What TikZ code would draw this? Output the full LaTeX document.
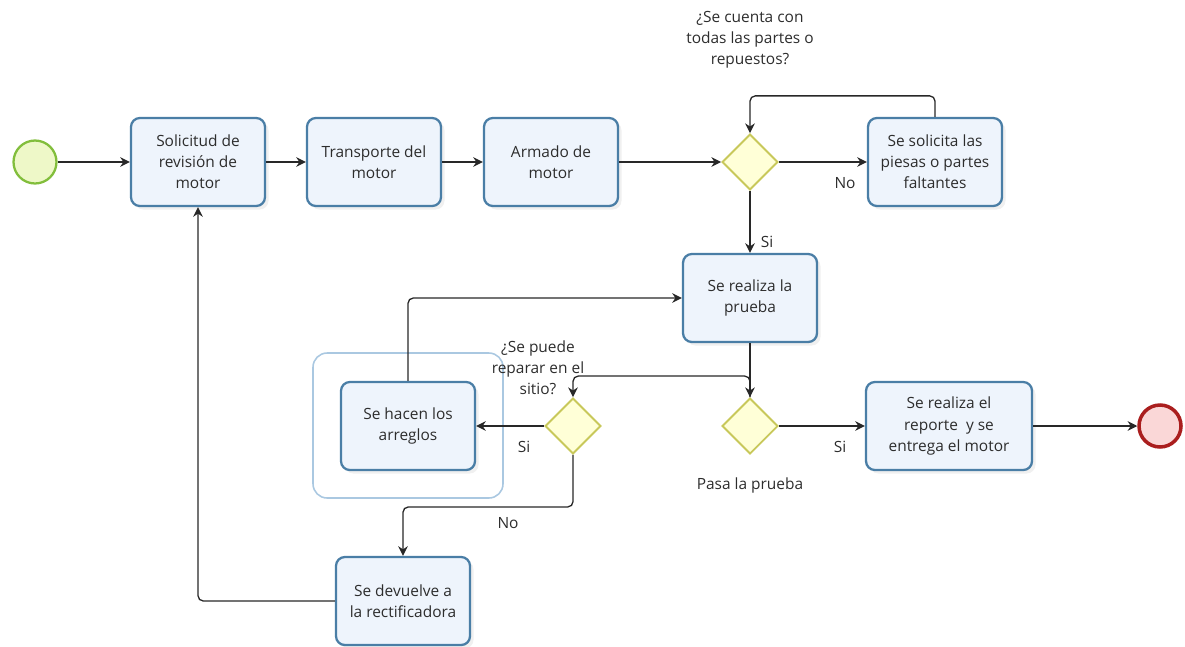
\documentclass[tikz,border=0pt]{standalone}
\usepackage{fontspec}
\setmainfont{Open Sans}
\usetikzlibrary{shapes.geometric,arrows.meta,shadows}
\definecolor{taskb}{RGB}{74,126,166}
\definecolor{taskf}{RGB}{238,244,252}
\definecolor{gateb}{RGB}{200,200,90}
\definecolor{gatef}{RGB}{255,255,215}
\definecolor{startb}{RGB}{130,190,60}
\definecolor{startf}{RGB}{238,248,200}
\definecolor{endb}{RGB}{170,30,30}
\definecolor{endf}{RGB}{250,215,215}
\definecolor{groupc}{RGB}{170,200,225}
\definecolor{flowc}{RGB}{40,40,40}
\definecolor{textc}{RGB}{45,45,45}
\begin{document}
\begin{tikzpicture}[x=0.02cm,y=-0.02cm,
  task/.style={draw=taskb, fill=taskf, line width=1.3pt, rounded corners=5pt,
    minimum width=2.68cm, minimum height=1.76cm, align=center, text=textc,
    font=\fontsize{8.8}{12}\selectfont,
    drop shadow={opacity=0.12, shadow xshift=2pt, shadow yshift=-2pt}},
  gate/.style={diamond, draw=gateb, fill=gatef, line width=1.1pt,
    minimum width=1.12cm, minimum height=1.12cm, inner sep=0pt, aspect=1},
  evstart/.style={circle, draw=startb, fill=startf, line width=1.3pt, minimum size=0.86cm, inner sep=0pt},
  evend/.style={circle, draw=endb, fill=endf, line width=2pt, minimum size=0.84cm, inner sep=0pt},
  flow/.style={draw=flowc, line width=0.75pt, rounded corners=3pt, -{Stealth[length=5.5pt,width=5.5pt]}},
  lbl/.style={font=\fontsize{8.8}{12}\selectfont, text=textc, align=center},
  grp/.style={draw=groupc, line width=0.9pt, rounded corners=8pt, minimum width=3.8cm, minimum height=2.9cm}]
\useasboundingbox (0,0) rectangle (1185,646);
% nodes
\node[evstart] (start) at (35,162) {};
\node[task] (t1) at (198,162) {Solicitud de\\revisión de\\motor};
\node[task] (t2) at (374,162) {Transporte del\\motor};
\node[task] (t3) at (551,162) {Armado de\\motor};
\node[gate] (g1) at (750,162) {};
\node[task] (t4) at (935,162) {Se solicita las\\piesas o partes\\faltantes};
\node[task] (t5) at (750,298) {Se realiza la\\prueba};
\node[gate] (g2) at (750,426) {};
\node[task, minimum width=3.32cm] (t6) at (949,426) {Se realiza el\\reporte\ \ y se\\entrega el motor};
\node[evend] (end) at (1160,426) {};
\node[gate] (g3) at (573,426) {};
\node[grp] (group) at (408,425.5) {};
\node[task] (t7) at (408,426) {Se hacen los\\arreglos};
\node[task] (t8) at (403,601) {Se devuelve a\\la rectificadora};
% labels
\node[lbl] (q1) at (750,40) {¿Se cuenta con\\todas las partes o\\repuestos?};
\node[lbl] (q3) at (538,368) {¿Se puede\\reparar en el\\sitio?};
\node[lbl] (q2) at (750,485) {Pasa la prueba};
\node[lbl] (l1) at (845,183) {No};
\node[lbl] (l2) at (767,242) {Si};
\node[lbl] (l3) at (840,447) {Si};
\node[lbl] (l4) at (524,447) {Si};
\node[lbl] (l5) at (508,523) {No};
% connectors
\draw[flow] (start) -- (t1);
\draw[flow] (t1) -- (t2);
\draw[flow] (t2) -- (t3);
\draw[flow] (t3) -- (g1);
\draw[flow] (g1) -- (t4);
\draw[flow] (t4.north) -- ++(0,-21) -| (g1.north);
\draw[flow] (g1) -- (t5);
\draw[flow] (t5) -- (g2);
\draw[flow] (g2) -- (t6);
\draw[flow] (t6) -- (end);
\draw[flow] (g2.north) -- ++(0,-21) -| (g3.north);
\draw[flow] (g3) -- (t7);
\draw[flow] (t7.north) |- (t5.west);
\draw[flow] (g3.south) -- ++(0,52) -| (t8.north);
\draw[flow] (t8.west) -| (t1.south);
\end{tikzpicture}
\end{document}
